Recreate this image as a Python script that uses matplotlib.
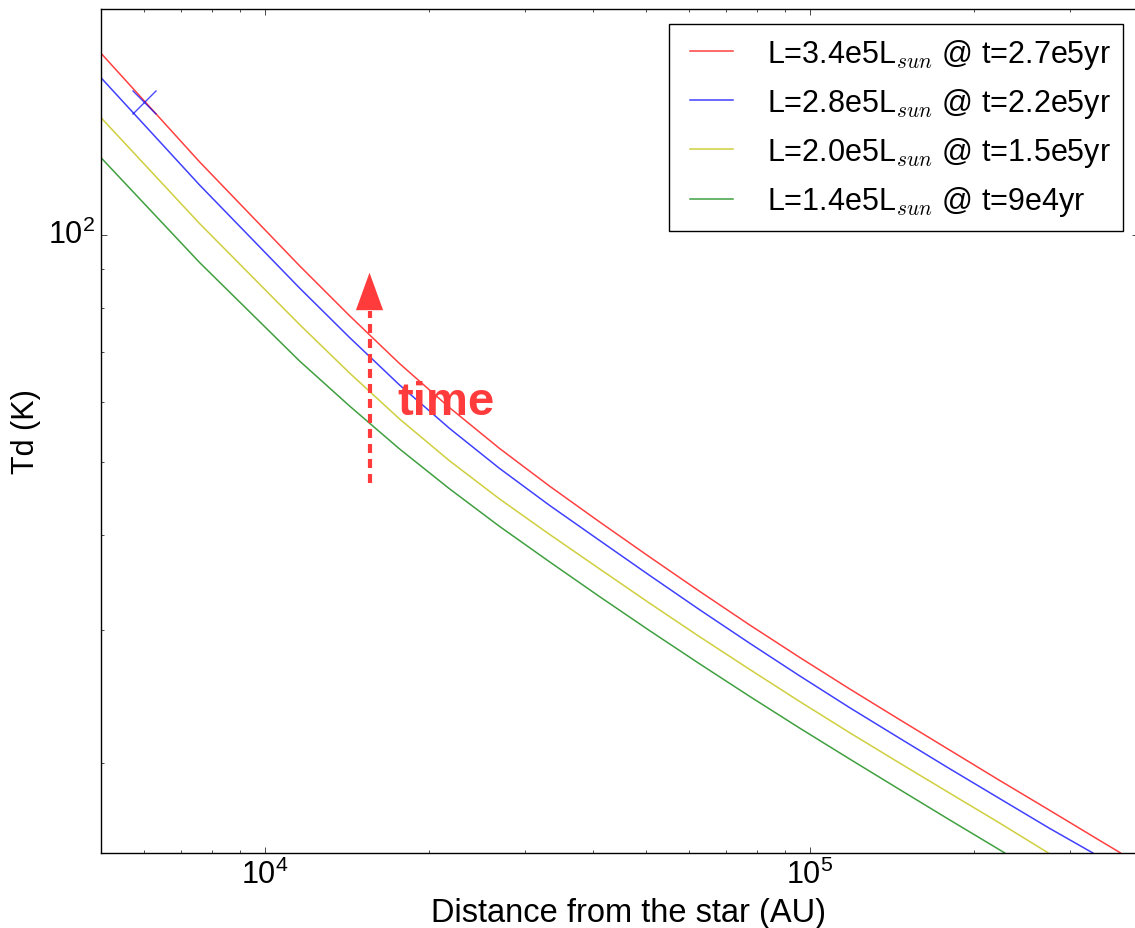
import matplotlib
matplotlib.use("Agg")
import matplotlib.pyplot as plt

plt.style.use("classic")
plt.rcParams["font.family"] = "sans-serif"
plt.rcParams["font.sans-serif"] = ["Liberation Sans", "DejaVu Sans"]
plt.rcParams["mathtext.fontset"] = "cm"
plt.rcParams["lines.scale_dashes"] = False

# dust temperature vs. distance, one curve per luminosity stage
r_red = [5000, 7583, 11570, 14290, 17650, 21810, 26930, 33270, 41090, 50760,
         62700, 77440, 95660, 118170, 145970, 180300, 222700, 275100, 339800,
         371200]
td_red = [173.9, 124.9, 91.0, 78.16, 67.56, 59.05, 52.16, 46.50, 41.70, 37.48,
          33.75, 30.47, 27.60, 25.07, 22.83, 20.81, 18.97, 17.32, 15.80, 15.21]

r_blue = [5000, 7583, 11570, 14290, 17650, 21810, 26930, 33270, 41090, 50760,
          62700, 77440, 95660, 118170, 145970, 180300, 222700, 275100, 330600]
td_blue = [161.4, 116.4, 85.04, 73.14, 63.29, 55.43, 49.08, 43.85, 39.41,
           35.43, 31.91, 28.82, 26.09, 23.68, 21.57, 19.66, 17.95, 16.39, 15.2]

r_yellow = [5000, 7583, 11570, 14290, 17650, 21810, 26930, 33270, 41090,
            50760, 62700, 77440, 95660, 118170, 145970, 180300, 222700, 273900]
td_yellow = [142.9, 103.5, 76.09, 65.64, 57.06, 50.22, 44.72, 40.14, 36.14,
             32.55, 29.39, 26.61, 24.13, 21.94, 20.0, 18.25, 16.66, 15.2]

r_green = [5000, 7583, 11570, 14290, 17650, 21810, 26930, 33270, 41090, 50760,
           62700, 77440, 95660, 118170, 145970, 180300, 227900]
td_green = [126.5, 91.91, 68.08, 59.36, 52.08, 46.11, 41.13, 36.92, 33.21,
            29.94, 27.06, 24.51, 22.25, 20.25, 18.45, 16.82, 15.2]

labels = [
    r"L=3.4e5L$_{sun}$ @ t=2.7e5yr",
    r"L=2.8e5L$_{sun}$ @ t=2.2e5yr",
    r"L=2.0e5L$_{sun}$ @ t=1.5e5yr",
    r"L=1.4e5L$_{sun}$ @ t=9e4yr",
]

# single marked point on the blue curve
mark_r, mark_td = 6000, 150

# "time" arrow: position, shaft bottom, head base, tip
arrow_r = 15550
arrow_td = (47.0, 79.3, 89.1)
time_r, time_td = 17500, 57.9

x_lim = (5000, 4.0e5)
y_lim = (15.2, 199)

fig = plt.figure(figsize=(11.35, 9.29), dpi=100, facecolor="white")
ax = fig.add_axes([101 / 1135, 75 / 929, 1037 / 1135, 844 / 929])

line_kw = dict(lw=1.1, alpha=0.75)
ax.plot(r_red, td_red, color="r", label=labels[0], **line_kw)
ax.plot(r_blue, td_blue, color="b", label=labels[1], **line_kw)
ax.plot(r_yellow, td_yellow, color="y", label=labels[2], **line_kw)
ax.plot(r_green, td_green, color="g", label=labels[3], **line_kw)
ax.plot([mark_r], [mark_td], "x", color="b", ms=17, mew=1.0, alpha=0.7)

ax.set_xscale("log")
ax.set_yscale("log")
ax.set_xlim(*x_lim)
ax.set_ylim(*y_lim)

ax.set_xlabel("Distance from the star (AU)", fontsize=23.5)
ax.xaxis.label.set_x(0.509)
ax.set_ylabel("Td (K)", fontsize=22)
ax.tick_params(labelsize=22)

# red dashed arrow with a solid head
arrow_color = "#ff3b3b"
ax.plot([arrow_r, arrow_r], arrow_td[:2], color=arrow_color, lw=3,
        linestyle=(0, (6.5, 4.3)), solid_capstyle="butt")
ax.annotate("", xy=(arrow_r, arrow_td[2]), xytext=(arrow_r, arrow_td[1]),
            arrowprops=dict(arrowstyle="-|>,head_length=2.7,head_width=0.98",
                            mutation_scale=10, color=arrow_color, lw=0,
                            shrinkA=0, shrinkB=0))
ax.text(time_r, time_td, "time", fontsize=34, fontweight="bold",
        color=arrow_color, ha="left", va="baseline")

ax.legend(loc="upper right", fontsize=22)

fig.savefig("out.png", dpi=100, facecolor="white")
